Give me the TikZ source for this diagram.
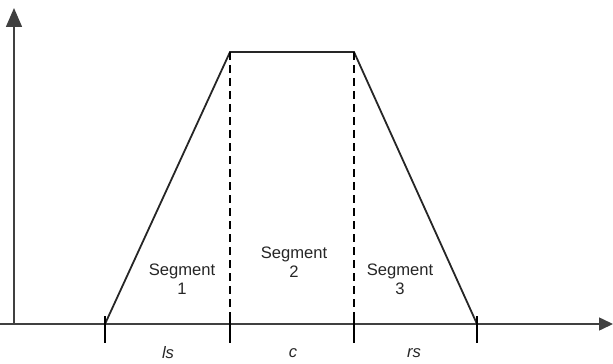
\documentclass[tikz,border=0pt]{standalone}
\usepackage{fontspec}
\setmainfont{Liberation Sans}
\usetikzlibrary{arrows.meta}
\begin{document}
\begin{tikzpicture}[x=0.5pt,y=-0.5pt,
  axis/.style={draw=black!75, line width=0.75pt},
  edge/.style={draw=black!85, line width=0.9pt},
  tick/.style={draw=black, line width=1.4pt},
  divider/.style={draw=black, line width=0.8pt, dash pattern=on 4pt off 2.5pt},
  seglabel/.style={font=\fontsize{8.3}{9.5}\selectfont, align=center, text=black!85},
  axlabel/.style={font=\fontsize{8.3}{9.5}\selectfont\itshape, text=black!85}]
\useasboundingbox (0,0) rectangle (613,363);
% axes
\coordinate (O) at (14,324);
\coordinate (ytop) at (14,8);
\coordinate (xleft) at (0,324);
\coordinate (xright) at (613,324);
\draw[axis, -{Triangle[length=9.5pt,width=8pt]}] (O) -- (ytop);
\draw[axis, -{Triangle[length=7pt,width=6.5pt]}] (xleft) -- (xright);
% trapezoid corners
\coordinate (a) at (105,324);
\coordinate (b) at (230,52);
\coordinate (c) at (354,52);
\coordinate (d) at (477,324);
\coordinate (b0) at (230,324);
\coordinate (c0) at (354,324);
\draw[edge] (a) -- (b) -- (c) -- (d);
\draw[divider] (b) -- (b0);
\draw[divider] (c) -- (c0);
% ticks
\foreach \n/\x in {t1/105,t2/230,t3/354,t4/477}{
  \coordinate (\n a) at (\x,316);
  \coordinate (\n b) at (\x,343);
  \draw[tick] (\n a) -- (\n b);
}
% labels
\node[seglabel] (s1) at (182,279) {Segment\\1};
\node[seglabel] (s2) at (294,262) {Segment\\2};
\node[seglabel] (s3) at (400,279) {Segment\\3};
\node[axlabel] (ls) at (168,353) {ls};
\node[axlabel] (cl) at (293,353) {c};
\node[axlabel] (rs) at (414,353) {rs};
\end{tikzpicture}
\end{document}
